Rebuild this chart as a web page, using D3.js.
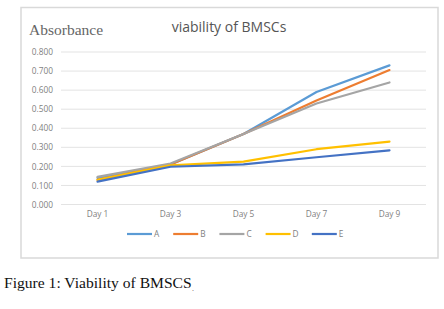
<!DOCTYPE html>
<html lang="en">
<head>
    <meta charset="UTF-8">
    <title>viability of BMSCs</title>
    <script src="https://d3js.org/d3.v7.min.js"></script>
    <style>
        body { margin: 0; background: #fff; }
    </style>
</head>
<body>
    <div id="my_dataviz"></div>

    <script>
        // data
        var days = ["Day 1", "Day 3", "Day 5", "Day 7", "Day 9"];
        var seriesNames = ["A", "B", "C", "D", "E"];
        var valuesA = [0.140, 0.210, 0.370, 0.590, 0.730];
        var valuesB = [0.130, 0.210, 0.370, 0.545, 0.705];
        var valuesC = [0.145, 0.215, 0.370, 0.530, 0.640];
        var valuesD = [0.130, 0.205, 0.225, 0.290, 0.330];
        var valuesE = [0.120, 0.198, 0.210, 0.248, 0.284];
        var yTicks = [0, 0.1, 0.2, 0.3, 0.4, 0.5, 0.6, 0.7, 0.8];
        var colors = ["#5B9BD5", "#ED7D31", "#A5A5A5", "#FFC000", "#4472C4"];

        var series = [valuesA, valuesB, valuesC, valuesD, valuesE].map(function(v, i) {
            return { name: seriesNames[i], values: v, color: colors[i] };
        });

        var W = 444, H = 309;
        var plot = {left: 61, right: 426, top: 52, bottom: 204.5};

        var svg = d3.select("#my_dataviz")
            .append("svg")
            .attr("width", W)
            .attr("height", H);

        // chart frame
        svg.append("rect")
            .attr("x", 21).attr("y", 7.5)
            .attr("width", 417).attr("height", 250.5)
            .attr("fill", "#fff")
            .attr("stroke", "#d9d9d9")
            .attr("stroke-width", 1.5);

        var x = d3.scaleBand()
            .domain(days)
            .range([plot.left, plot.right]);

        var y = d3.scaleLinear()
            .domain([0, 0.8])
            .range([plot.bottom, plot.top]);

        // gridlines
        svg.append("g")
            .selectAll("line")
            .data(yTicks)
            .join("line")
            .attr("x1", plot.left).attr("x2", plot.right)
            .attr("y1", function(d) { return y(d); })
            .attr("y2", function(d) { return y(d); })
            .attr("stroke", "#e3e3e3")
            .attr("stroke-width", 1);

        var tickFont = function(sel) {
            sel.attr("fill", "#7f7f7f")
                .style("font-family", "'Open Sans', sans-serif")
                .style("font-size", "8.3px");
        };

        // y axis labels
        var yAxis = svg.append("g")
            .attr("transform", `translate(${plot.left - 8},0)`)
            .call(d3.axisLeft(y).tickValues(yTicks).tickFormat(d3.format(".3f")).tickSize(0).tickPadding(0));
        yAxis.select(".domain").remove();
        yAxis.selectAll("text").call(tickFont);

        // x axis labels
        var xAxis = svg.append("g")
            .attr("transform", `translate(0,${plot.bottom + 7})`)
            .call(d3.axisBottom(x).tickSize(0).tickPadding(0));
        xAxis.select(".domain").remove();
        xAxis.selectAll("text").call(tickFont);

        // lines
        var line = d3.line()
            .x(function(d, i) { return x(days[i]) + x.bandwidth() / 2; })
            .y(function(d) { return y(d); });

        svg.append("g")
            .selectAll("path")
            .data(series)
            .join("path")
            .attr("fill", "none")
            .attr("stroke", function(d) { return d.color; })
            .attr("stroke-width", 2.2)
            .attr("stroke-linejoin", "round")
            .attr("stroke-linecap", "round")
            .attr("d", function(d) { return line(d.values); });

        // titles
        svg.append("text")
            .attr("x", 229).attr("y", 32)
            .attr("text-anchor", "middle")
            .attr("fill", "#555")
            .style("font-family", "'Open Sans', sans-serif")
            .style("font-size", "14px")
            .text("viability of BMSCs");

        svg.append("text")
            .attr("x", 29).attr("y", 35)
            .attr("fill", "#666")
            .style("font-family", "'Liberation Serif', serif")
            .style("font-size", "15.5px")
            .text("Absorbance");

        // legend
        var legend = svg.append("g")
            .attr("transform", "translate(127,234)");
        var item = legend.selectAll("g")
            .data(series)
            .join("g")
            .attr("transform", function(d, i) { return `translate(${i * 46.2},0)`; });
        item.append("line")
            .attr("x1", 0).attr("x2", 25)
            .attr("stroke", function(d) { return d.color; })
            .attr("stroke-width", 2.2);
        item.append("text")
            .attr("x", 27).attr("y", 3)
            .call(tickFont)
            .text(function(d) { return d.name; });

        // caption
        svg.append("text")
            .attr("x", 4).attr("y", 288)
            .attr("fill", "#111")
            .style("font-family", "'Liberation Serif', serif")
            .style("font-size", "15.6px")
            .text("Figure 1: Viability of BMSCS");
        svg.append("text")
            .attr("x", 192).attr("y", 291)
            .attr("fill", "#555")
            .style("font-family", "'Liberation Serif', serif")
            .style("font-size", "8px")
            .text(".");
    </script>
</body>
</html>
